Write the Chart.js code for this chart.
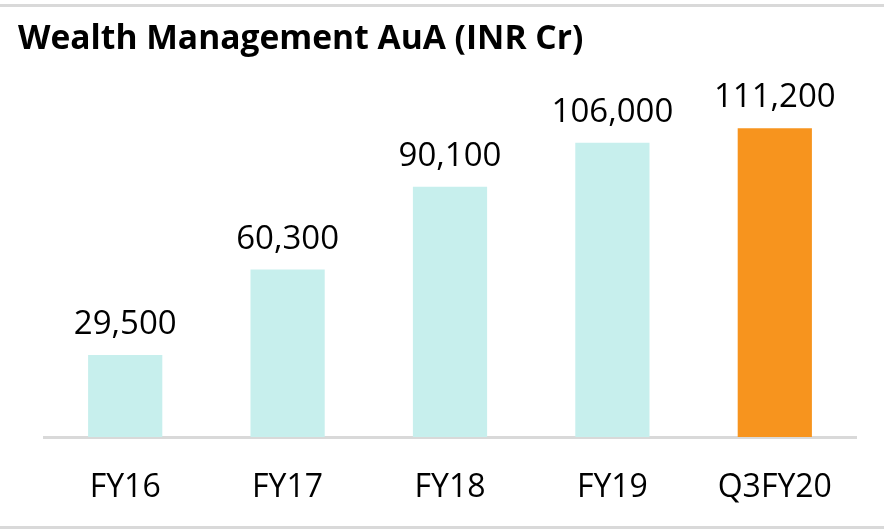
<!DOCTYPE html>
<html>
<head>
<meta charset="utf-8">
<script src="https://cdn.jsdelivr.net/npm/chart.js@4.4.1/dist/chart.umd.min.js"></script>
<style>
  html, body { margin: 0; padding: 0; background: #fff; }
  #wrap { width: 884px; height: 529px; position: relative; }
</style>
</head>
<body>
<div id="wrap"><canvas id="aua-chart"></canvas></div>
<script>
// data
var categories = ['FY16', 'FY17', 'FY18', 'FY19', 'Q3FY20'];
var auaValues = [29500, 60300, 90100, 106000, 111200];
var barColors = ['#C7EFED', '#C7EFED', '#C7EFED', '#C7EFED', '#F7941E'];
var chartTitle = 'Wealth Management AuA (INR Cr)';

// title, frame lines and value labels
var decorations = {
    id: 'decorations',
    beforeDraw: function (chart) {
        var c = chart.ctx;
        c.save();
        c.fillStyle = '#fff';
        c.fillRect(0, 0, chart.width, chart.height);
        c.fillStyle = '#D9D9D9';
        c.fillRect(0, 4, chart.width, 3);
        c.fillRect(0, 526, chart.width, 3);
        c.fillStyle = '#000';
        c.font = 'bold 33.6px "Open Sans"';
        c.textBaseline = 'alphabetic';
        c.fillText(chartTitle, 18, 49);
        c.restore();
    },
    afterDatasetsDraw: function (chart) {
        var c = chart.ctx;
        var meta = chart.getDatasetMeta(0);
        c.save();
        c.fillStyle = '#000';
        c.font = '33px "Open Sans"';
        c.textAlign = 'center';
        c.textBaseline = 'alphabetic';
        meta.data.forEach(function (bar, i) {
            c.fillText(auaValues[i].toLocaleString('en-US'), bar.x, bar.y - 21);
        });
        c.restore();
    }
};

var ctx = document.getElementById('aua-chart');
new Chart(ctx, {
    type: 'bar',
    data: {
        labels: categories,
        datasets: [{
            label: 'AuA',
            data: auaValues,
            backgroundColor: barColors,
            borderWidth: 0,
            barPercentage: 0.457,
            categoryPercentage: 1
        }]
    },
    options: {
        responsive: true,
        maintainAspectRatio: false,
        animation: false,
        layout: {
            padding: { top: 76, left: 44, right: 28, bottom: 0 }
        },
        plugins: {
            legend: { display: false },
            tooltip: { enabled: false }
        },
        scales: {
            x: {
                grid: { display: false, drawTicks: false },
                border: { display: true, color: '#D9D9D9', width: 3 },
                ticks: {
                    color: '#000',
                    padding: 38,
                    font: { family: 'Open Sans', size: 32, lineHeight: 0.8 }
                },
                afterFit: function (scale) {
                    scale.height = 92;
                }
            },
            y: {
                display: false,
                min: 0,
                max: 130000
            }
        }
    },
    plugins: [decorations]
});
</script>
</body>
</html>
